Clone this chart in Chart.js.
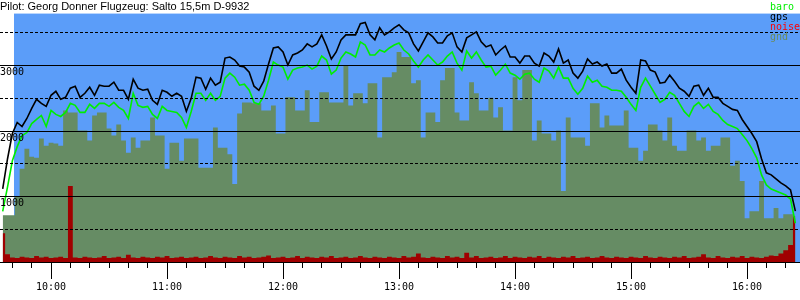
<!DOCTYPE html>
<html>
<head>
<meta charset="utf-8">
<script src="https://cdn.jsdelivr.net/npm/chart.js@4.4.1/dist/chart.umd.min.js"></script>
<style>
  body { margin: 0; background: #fff; }
  #wrap { width: 800px; height: 300px; }
</style>
</head>
<body>
<div id="wrap"><canvas id="flight-chart"></canvas></div>
<script>
const title = "Pilot: Georg Donner Flugzeug: Salto 15,5m D-9932";

// sample grid: minutes after midnight, one point every 2.5 min from 9:35
const startMin = 575;
const stepMin = 2.5;
const xMin = 573.6;
const xMax = 987.4;
const takeoffMin = 580.8;
const yMax = 3800;

// tick positions (minutes after midnight / metres)
const hourTicks = [600, 660, 720, 780, 840, 900, 960];
const minorStep = 10;
const heightTicks = [500, 1000, 1500, 2000, 2500, 3000, 3500];

const gps = [
  1115, 1577, 1962, 2131, 2069, 2192, 2346, 2485, 2423, 2377,
  2546, 2607, 2485, 2515, 2654, 2685, 2515, 2577, 2669, 2546,
  2700, 2685, 2685, 2746, 2623, 2623, 2485, 2792, 2654, 2623,
  2638, 2469, 2408, 2623, 2592, 2531, 2577, 2531, 2300, 2500,
  2823, 2808, 2638, 2808, 2700, 2746, 3115, 3131, 3085, 2992,
  2977, 2900, 2685, 2623, 2761, 3023, 3269, 3285, 3208, 3008,
  3162, 3192, 3238, 3331, 3285, 3331, 3469, 3300, 3100, 3208,
  3392, 3469, 3469, 3469, 3640, 3660, 3469, 3392, 3577, 3469,
  3515, 3577, 3623, 3546, 3500, 3331, 3223, 3362, 3500, 3438,
  3346, 3346, 3454, 3500, 3285, 3208, 3423, 3469, 3515, 3362,
  3285, 3315, 3162, 3238, 3300, 3131, 3131, 3038, 3146, 3146,
  3038, 2992, 3192, 3146, 3054, 3254, 3038, 3085, 2885, 2808,
  2915, 3100, 3023, 3054, 2992, 3023, 2885, 2885, 2946, 2777,
  2669, 2577, 3085, 3069, 2931, 2900, 2731, 2746, 2854, 2761,
  2654, 2608, 2531, 2685, 2700, 2546, 2654, 2515, 2515, 2423,
  2377, 2331, 2315, 2177, 2069, 1962, 1838, 1577, 1362, 1331,
  1269, 1208, 1162, 1100, 777,
];

const baro = [
  773, 1146, 1546, 1762, 1931, 1977, 2115, 2177, 2238, 2069,
  2315, 2254, 2223, 2285, 2423, 2392, 2285, 2285, 2408, 2346,
  2423, 2423, 2377, 2438, 2362, 2315, 2192, 2577, 2392, 2362,
  2377, 2254, 2192, 2377, 2315, 2300, 2285, 2208, 2054, 2300,
  2577, 2577, 2469, 2577, 2469, 2531, 2808, 2885, 2823, 2700,
  2715, 2623, 2438, 2408, 2531, 2777, 3054, 3008, 2977, 2792,
  2931, 2962, 2977, 3008, 2946, 2992, 3146, 3085, 2869, 2931,
  3115, 3208, 3177, 3131, 3362, 3315, 3162, 3162, 3238, 3208,
  3269, 3315, 3346, 3238, 3177, 3069, 2977, 3085, 3162, 3085,
  3008, 3054, 3146, 3208, 3038, 2931, 3223, 3115, 3208, 3085,
  2977, 2992, 2854, 2931, 3023, 2885, 2854, 2792, 2869, 2885,
  2792, 2746, 2962, 2915, 2808, 2977, 2808, 2808, 2654, 2562,
  2654, 2838, 2746, 2777, 2685, 2669, 2623, 2623, 2608, 2515,
  2408, 2315, 2669, 2808, 2685, 2562, 2438, 2485, 2592, 2546,
  2423, 2300, 2223, 2377, 2438, 2346, 2408, 2300, 2254, 2162,
  2100, 2069, 2038, 1946, 1854, 1731, 1592, 1331, 1177, 1115,
  1085, 1054, 1023, 962, 592,
];

const gnd = [
  715, 715, 715, 1008, 1423, 1731, 1608, 1592, 1885, 1777,
  1823, 1808, 1777, 2315, 2285, 2285, 2008, 2008, 1854, 2238,
  2285, 2285, 2038, 1931, 2100, 1854, 1669, 1900, 1746, 1854,
  1854, 2208, 1931, 1931, 1423, 1823, 1823, 1546, 1885, 1885,
  1885, 1438, 1438, 1438, 2054, 1746, 1746, 1646, 1192, 2269,
  2438, 2438, 2423, 2423, 2315, 2315, 2392, 1962, 1962, 2515,
  2515, 2315, 2315, 2623, 2138, 2138, 2592, 2592, 2438, 2438,
  2438, 3008, 2392, 2577, 2577, 2423, 2731, 2731, 1900, 2823,
  2823, 2900, 3208, 3131, 3131, 2731, 2777, 1900, 2285, 2285,
  2138, 2777, 2962, 2962, 2285, 2162, 2162, 2746, 2577, 2315,
  2315, 2508, 2208, 2362, 2008, 2008, 2823, 2469, 2931, 2931,
  1854, 2162, 1962, 1962, 1854, 2008, 1085, 2208, 1900, 1900,
  1900, 1777, 2423, 2423, 2054, 2238, 2085, 2085, 2085, 2315,
  1746, 1746, 1546, 1700, 2100, 2100, 2008, 1854, 2208, 1777,
  1700, 1700, 2008, 2008, 1854, 1900, 1700, 1777, 1777, 1900,
  1900, 1469, 1546, 1238, 669, 777, 777, 1238, 669, 669,
  823, 669, 731, 731, 515,
];

const noise = [
  440, 120, 70, 60, 80, 70, 60, 90, 70, 80,
  60, 70, 80, 60, 1160, 70, 60, 80, 70, 60,
  70, 90, 60, 70, 80, 60, 110, 70, 60, 80,
  70, 60, 80, 70, 90, 60, 70, 80, 60, 70,
  80, 60, 70, 90, 70, 60, 80, 70, 60, 90,
  70, 80, 60, 70, 80, 100, 60, 70, 80, 60,
  70, 90, 60, 80, 70, 60, 80, 70, 90, 60,
  70, 80, 60, 70, 90, 70, 60, 80, 70, 60,
  80, 70, 60, 90, 70, 80, 130, 70, 60, 80,
  70, 60, 90, 70, 80, 60, 140, 70, 90, 60,
  70, 80, 60, 70, 90, 60, 80, 70, 60, 80,
  70, 90, 60, 80, 70, 60, 80, 70, 90, 60,
  70, 80, 60, 70, 90, 70, 60, 80, 70, 60,
  80, 70, 60, 90, 70, 60, 80, 70, 60, 80,
  70, 90, 60, 70, 80, 120, 70, 60, 90, 70,
  60, 80, 70, 90, 60, 80, 70, 60, 80, 100,
  90, 130, 180, 260, 700,
];

const legendItems = [
  { label: "baro", color: "#00ee00" },
  { label: "gps", color: "#000000" },
  { label: "noise", color: "#ff0000" },
  { label: "gnd", color: "#6b8c5c" },
];

const skyColor = "#5b9df9";
const gndColor = "#668c64";
const noiseColor = "#a00000";

(function startFunction() {
  drawFlight();
})();

function toPoints(values) {
  return values.map((v, i) => ({ x: startMin + i * stepMin, y: v }));
}

function fmtTime(v) {
  const h = Math.floor(v / 60);
  const m = Math.round(v % 60);
  return h + ":" + String(m).padStart(2, "0");
}

function minorTicks() {
  let list = [];
  for (let t = Math.ceil(xMin / minorStep) * minorStep; t < xMax; t += minorStep) {
    list.push({ value: t });
  }
  return list;
}

function drawFlight() {
  const ctx = document.getElementById("flight-chart").getContext("2d");

  // legend text in the top right corner, written over the plot
  const legendText = {
    id: "legendText",
    afterDraw(chart) {
      const c = chart.ctx;
      c.save();
      c.font = '10px "DejaVu Sans Mono"';
      c.textAlign = "left";
      c.textBaseline = "middle";
      legendItems.forEach((item, k) => {
        c.fillStyle = item.color;
        c.fillText(item.label, chart.width - 30, 7 + k * 10);
      });
      c.restore();
    },
  };

  new Chart(ctx, {
    type: "line",
    plugins: [legendText],
    data: {
      datasets: [
        {
          label: "gps",
          data: toPoints(gps),
          borderColor: "#000000",
          borderWidth: 1.6,
          pointRadius: 0,
          fill: false,
          order: 1,
        },
        {
          label: "baro",
          data: toPoints(baro),
          borderColor: "#00ee00",
          borderWidth: 1.6,
          pointRadius: 0,
          fill: false,
          order: 2,
        },
        {
          label: "noise",
          data: toPoints(noise),
          borderWidth: 0,
          backgroundColor: noiseColor,
          pointRadius: 0,
          stepped: "middle",
          fill: "origin",
          order: 3,
        },
        {
          label: "gnd",
          data: toPoints(gnd),
          borderWidth: 0,
          backgroundColor: gndColor,
          pointRadius: 0,
          stepped: "middle",
          fill: "origin",
          order: 4,
        },
        {
          label: "sky",
          data: [
            { x: takeoffMin, y: yMax },
            { x: xMax, y: yMax },
          ],
          borderWidth: 0,
          backgroundColor: skyColor,
          pointRadius: 0,
          fill: "origin",
          order: 5,
        },
      ],
    },
    options: {
      responsive: true,
      maintainAspectRatio: false,
      animation: false,
      devicePixelRatio: 1,
      layout: { padding: { left: 0, right: 0, top: 0, bottom: 5 } },
      plugins: {
        legend: { display: false },
        tooltip: { enabled: false },
        title: {
          display: true,
          text: title,
          align: "start",
          color: "#000",
          padding: 0,
          font: { family: '"Liberation Sans", Arial', size: 11, weight: "normal" },
        },
      },
      scales: {
        x: {
          type: "linear",
          position: "bottom",
          weight: 0,
          min: xMin,
          max: xMax,
          afterBuildTicks: (scale) => {
            scale.ticks = minorTicks();
          },
          grid: {
            drawOnChartArea: false,
            drawTicks: true,
            tickLength: 6,
            tickColor: "#000",
          },
          border: { display: true, color: "#000", z: 1 },
          ticks: { display: false },
        },
        x2: {
          type: "linear",
          position: "bottom",
          weight: 1,
          min: xMin,
          max: xMax,
          afterBuildTicks: (scale) => {
            scale.ticks = hourTicks.map((v) => ({ value: v }));
          },
          grid: {
            drawOnChartArea: false,
            drawTicks: true,
            tickLength: 11,
            tickColor: "#000",
          },
          border: { display: false },
          ticks: {
            autoSkip: false,
            maxRotation: 0,
            padding: 2,
            color: "#000",
            font: { family: '"DejaVu Sans Mono"', size: 10 },
            callback: (v) => fmtTime(v),
          },
        },
        y: {
          position: "left",
          min: 0,
          max: yMax,
          afterBuildTicks: (scale) => {
            scale.ticks = heightTicks.map((v) => ({ value: v }));
          },
          grid: {
            z: 1,
            drawTicks: false,
            lineWidth: 1,
            color: "#000",
          },
          border: {
            display: false,
            dash: (c) => (c.tick && c.tick.value % 1000 !== 0 ? [3, 2] : []),
          },
          ticks: {
            z: 1,
            autoSkip: false,
            mirror: true,
            padding: 0,
            labelOffset: 7,
            color: "#000",
            font: { family: '"DejaVu Sans Mono"', size: 10 },
            callback: (v) => (v % 1000 === 0 ? String(v) : ""),
          },
        },
      },
    },
  });
}
</script>
</body>
</html>
